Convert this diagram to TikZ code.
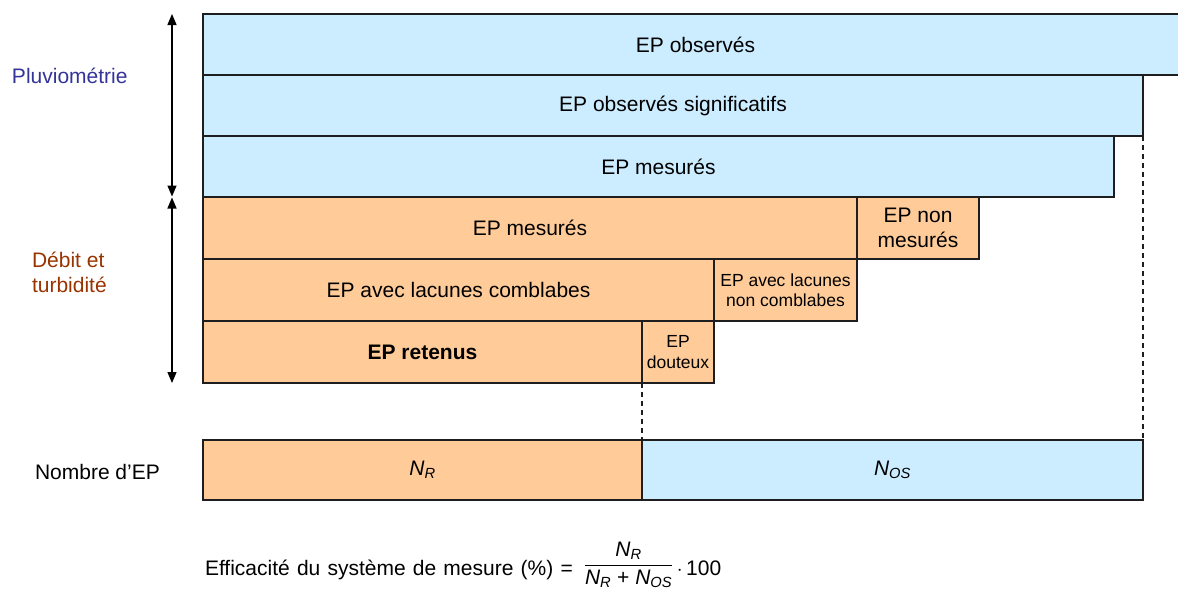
\documentclass[tikz,border=0pt]{standalone}
\usepackage{fontspec}
\usepackage{amsmath}
\setmainfont{Liberation Sans}
\usetikzlibrary{arrows.meta}
\definecolor{bluefill}{RGB}{204,236,255}
\definecolor{orangefill}{RGB}{255,204,153}
\definecolor{linec}{RGB}{30,30,30}
\definecolor{pluvio}{RGB}{51,51,153}
\definecolor{debit}{RGB}{153,51,0}
\newcommand{\bigfs}{\fontsize{21}{25}\selectfont}
\newcommand{\smallfs}{\fontsize{17.5}{20.5}\selectfont}
\tikzset{
  box/.style={draw=linec, line width=1.2pt, inner sep=0pt, outer sep=0pt,
    anchor=north west, align=center, font=\bigfs},
  bluebox/.style={box, fill=bluefill},
  orangebox/.style={box, fill=orangefill},
  smalltext/.style={font=\smallfs},
  guide/.style={draw=linec, line width=1.2pt, dash pattern=on 5pt off 4pt},
  dimarrow/.style={draw=black, line width=1.4pt, {Triangle[length=11pt,width=9pt]}-{Triangle[length=11pt,width=9pt]}},
  label/.style={inner sep=0pt, outer sep=0pt, anchor=base west, font=\bigfs, align=left}
}
\begin{document}
\begin{tikzpicture}[x=1pt,y=-1pt]
\useasboundingbox (0,0) rectangle (1178,592);
% clipped top row
\begin{scope}
\clip (0,0) rectangle (1178,592);
\node[bluebox, minimum width=985pt, minimum height=61pt] (r1) at (203,14) {EP observés};
\end{scope}
\node[bluebox, minimum width=940pt, minimum height=61pt] (r2) at (203,75) {EP observés significatifs};
\node[bluebox, minimum width=911pt, minimum height=61pt] (r3) at (203,136) {EP mesurés};
% orange rows
\node[orangebox, minimum width=654pt, minimum height=62pt] (r4a) at (203,197) {EP mesurés};
\node[orangebox, minimum width=122pt, minimum height=62pt] (r4b) at (857,197) {EP non\\mesurés};
\node[orangebox, minimum width=511pt, minimum height=62pt] (r5a) at (203,259) {EP avec lacunes comblabes};
\node[orangebox, smalltext, minimum width=143pt, minimum height=62pt] (r5b) at (714,259) {EP avec lacunes\\non comblabes};
\node[orangebox, minimum width=439pt, minimum height=62pt, font=\bigfs\bfseries] (r6a) at (203,321) {EP retenus};
\node[orangebox, smalltext, minimum width=72pt, minimum height=62pt] (r6b) at (642,321) {EP\\douteux};
% bottom row
\node[orangebox, minimum width=439pt, minimum height=60pt] (nr) at (203,440) {\itshape N\textsubscript{R}};
\node[bluebox, minimum width=501pt, minimum height=60pt] (nos) at (642,440) {\itshape N\textsubscript{OS}};
% dashed guides
\draw[guide] (r6b.south west) -- (nos.north west);
\draw[guide] (r2.south east) -- (nos.north east);
% dimension arrows
\coordinate (a1) at (172,14);
\coordinate (a2) at (172,196.5);
\coordinate (a3) at (172,197.5);
\coordinate (a4) at (172,383);
\draw[dimarrow] (a1) -- (a2);
\draw[dimarrow] (a3) -- (a4);
% labels
\node[label, text=pluvio] (pluv) at (12,83) {Pluviométrie};
\node[label, text=debit] (deb) at (32,292) {Débit et\\turbidité};
\node[label] (nomb) at (35,479) {Nombre d’EP};
\node[label] (form) at (205,575) {\spaceskip=7.2pt Efficacité du système de mesure (\%) =\hspace{11pt}\raisebox{4.5pt}{$\dfrac{\mbox{\spaceskip=0pt\itshape N\textsubscript{R}}}{\mbox{\spaceskip=0pt\itshape N\textsubscript{R} \upshape+ \itshape N\textsubscript{OS}}}$}\,$\cdot$\,100};
\end{tikzpicture}
\end{document}
